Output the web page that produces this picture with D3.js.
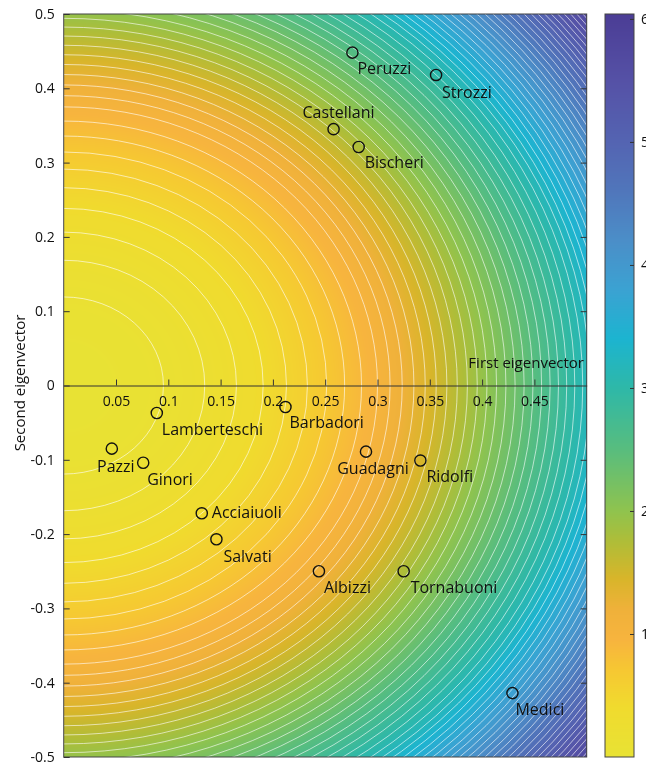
<!DOCTYPE html>
<html><head><meta charset="utf-8">
<script src="https://cdn.jsdelivr.net/npm/d3@7"></script>
<style>
html,body{margin:0;padding:0;background:#fff;overflow:hidden;}
#wrap{position:relative;width:646px;height:765px;}
canvas,svg{position:absolute;left:0;top:0;}
text{font-family:"Open Sans","Noto Sans",sans-serif;fill:#111;}
</style></head><body><div id="wrap"></div>
<script>
// ---- data ----
const families = ["Peruzzi","Strozzi","Castellani","Bischeri","Lamberteschi","Barbadori","Pazzi","Ginori","Guadagni","Ridolfi","Acciaiuoli","Salvati","Albizzi","Tornabuoni","Medici"];
const firstEigen  = [0.276, 0.356, 0.258, 0.282, 0.089, 0.212, 0.046, 0.076, 0.289, 0.341, 0.132, 0.146, 0.244, 0.325, 0.429];
const secondEigen = [0.448, 0.418, 0.345, 0.321, -0.037, -0.029, -0.085, -0.104, -0.089, -0.101, -0.172, -0.207, -0.250, -0.250, -0.414];
// label placement relative to the marker: [dx, dy, anchor]
const labelPlacement = [[5,21,"start"],[6,23,"start"],[5,-11,"middle"],[6,21,"start"],[5,22,"start"],[4,21,"start"],[4,23,"middle"],[4,22,"start"],[7,22,"middle"],[6,21,"start"],[10,5,"start"],[7,23,"start"],[5,22,"start"],[7,22,"start"],[3,22,"start"]];

const xTicks = [0.05,0.1,0.15,0.2,0.25,0.3,0.35,0.4,0.45];
const yTicks = [0.5,0.4,0.3,0.2,0.1,0,-0.1,-0.2,-0.3,-0.4,-0.5];
const cTicks = [1,2,3,4,5,6];

// background field: value read along the first-eigenvector axis at these radii
const fieldRadius = [0, 0.1, 0.2, 0.3, 0.4, 0.5, 0.6, 0.66];
const fieldValue  = [0, 0.11, 0.44, 1.0, 1.95, 3.15, 4.9, 6.2];
const fieldVerticalStretch = 0.8;   // weight of the second-eigenvector axis in the field
const contourStep = 0.1;
const colorMax = 6.04;

// colour map
const colorStops = [0, 0.4, 0.7, 0.95, 1.2, 1.45, 1.75, 2.0, 2.5, 3.0, 3.4, 3.8, 4.2, 4.6, 5.0, 5.5, 6.04];
const colorHex   = ["#e8e234","#f0db2e","#f6c832","#f7b43e","#efb13a","#d8b52a","#afbd38","#8fc34e","#58bd7e","#2eb8a8","#1cb4d0","#3ba2d2","#4b8ec8","#5076bb","#5464b2","#5551a6","#4b3d95"];

// ---- layout ----
const W = 646, H = 765;
const P = {l:63.7, r:586.7, t:14, b:757};
const CB = {l:605, r:634, t:14, b:757};

const x = d3.scaleLinear().domain([0,0.5]).range([P.l,P.r]);
const y = d3.scaleLinear().domain([-0.5,0.5]).range([P.b,P.t]);
const cy = d3.scaleLinear().domain([0,colorMax]).range([CB.b,CB.t]);
const color = d3.scaleLinear().domain(colorStops).range(colorHex).interpolate(d3.interpolateRgb).clamp(true);
const field = d3.scaleLinear().domain(fieldRadius.map(r=>r*r)).range(fieldValue);
const fval = (dx,dy)=> field(dx*dx + (fieldVerticalStretch*dy)*(fieldVerticalStretch*dy));

const wrap = d3.select("#wrap");
const canvas = wrap.append("canvas").attr("width",W).attr("height",H).node();
const ctx = canvas.getContext("2d");
const img = ctx.createImageData(W,H);
function put(px,py,c){const i=(py*W+px)*4;img.data[i]=c.r;img.data[i+1]=c.g;img.data[i+2]=c.b;img.data[i+3]=255;}
for(let py=Math.round(P.t); py<Math.round(P.b); py++){
  for(let px=Math.round(P.l); px<Math.round(P.r); px++){
    const v = fval(x.invert(px+0.5), y.invert(py+0.5));
    put(px,py,d3.rgb(color(v)));
  }
}
for(let py=CB.t; py<CB.b; py++){
  const c = d3.rgb(color(cy.invert(py+0.5)));
  for(let px=CB.l; px<CB.r; px++) put(px,py,c);
}
ctx.putImageData(img,0,0);

const svg = wrap.append("svg").attr("width",W).attr("height",H);
svg.append("clipPath").attr("id","pc").append("rect").attr("x",P.l).attr("y",P.t).attr("width",P.r-P.l).attr("height",P.b-P.t);

// contour lines
const levels = d3.range(contourStep, 6.2, contourStep);
svg.append("g").attr("clip-path","url(#pc)").selectAll("ellipse").data(levels).join("ellipse")
  .attr("cx",x(0)).attr("cy",y(0))
  .attr("rx",L=>{const r=Math.sqrt(field.invert(L)); return x(r)-x(0);})
  .attr("ry",L=>{const r=Math.sqrt(field.invert(L)); return y(0)-y(r/fieldVerticalStretch);})
  .attr("fill","none").attr("stroke","#fff").attr("stroke-opacity",0.6).attr("stroke-width",1);

// frame
svg.append("rect").attr("x",P.l).attr("y",P.t).attr("width",P.r-P.l).attr("height",P.b-P.t)
  .attr("fill","none").attr("stroke","#444").attr("stroke-width",1);

const fmt = d=>String(+d.toFixed(2));
// x axis at origin
const gx = svg.append("g").attr("transform",`translate(0,${y(0)})`)
  .call(d3.axisBottom(x).tickValues(xTicks).tickSize(-6).tickSizeOuter(0).tickPadding(11).tickFormat(fmt));
gx.select(".domain").attr("stroke","#333");
gx.selectAll(".tick line").attr("stroke","#333");
gx.selectAll("text").attr("font-size",14).attr("fill","#111");

// left y axis
const gy = svg.append("g").attr("transform",`translate(${P.l},0)`)
  .call(d3.axisLeft(y).tickValues(yTicks).tickSize(-6).tickSizeOuter(0).tickPadding(9).tickFormat(fmt));
gy.select(".domain").remove();
gy.selectAll(".tick line").attr("stroke","#333");
gy.selectAll("text").attr("font-size",14).attr("fill","#111");
// right mirrored ticks
const gr = svg.append("g").attr("transform",`translate(${P.r},0)`)
  .call(d3.axisRight(y).tickValues(yTicks.filter(v=>Math.abs(v)<0.5 && v!==0)).tickSize(-6).tickSizeOuter(0).tickFormat(""));
gr.select(".domain").remove();
gr.selectAll(".tick line").attr("stroke","#333");

// axis titles
svg.append("text").attr("transform",`translate(25,383) rotate(-90)`).attr("text-anchor","middle")
  .attr("font-size",15).text("Second eigenvector");
svg.append("text").attr("x",584).attr("y",368).attr("text-anchor","end").attr("font-size",15).text("First eigenvector");

// colour bar
svg.append("rect").attr("x",CB.l).attr("y",CB.t).attr("width",CB.r-CB.l).attr("height",CB.b-CB.t)
  .attr("fill","none").attr("stroke","#444").attr("stroke-width",1);
const gc = svg.append("g").attr("transform",`translate(${CB.r},0)`)
  .call(d3.axisRight(cy).tickValues(cTicks).tickSize(-4).tickSizeOuter(0).tickPadding(7).tickFormat(d3.format("d")));
gc.select(".domain").remove();
gc.selectAll(".tick line").attr("stroke","#333");
gc.selectAll("text").attr("font-size",14).attr("fill","#111");

// points and labels
const pts = families.map((f,i)=>({name:f, vx:firstEigen[i], vy:secondEigen[i], lp:labelPlacement[i]}));
svg.append("g").selectAll("circle").data(pts).join("circle")
  .attr("cx",d=>x(d.vx)).attr("cy",d=>y(d.vy)).attr("r",5.6)
  .attr("fill","none").attr("stroke","#111").attr("stroke-width",1.4);
svg.append("g").selectAll("text").data(pts).join("text")
  .attr("x",d=>x(d.vx)+d.lp[0]).attr("y",d=>y(d.vy)+d.lp[1]).attr("text-anchor",d=>d.lp[2])
  .attr("font-size",16).text(d=>d.name);
</script></body></html>
